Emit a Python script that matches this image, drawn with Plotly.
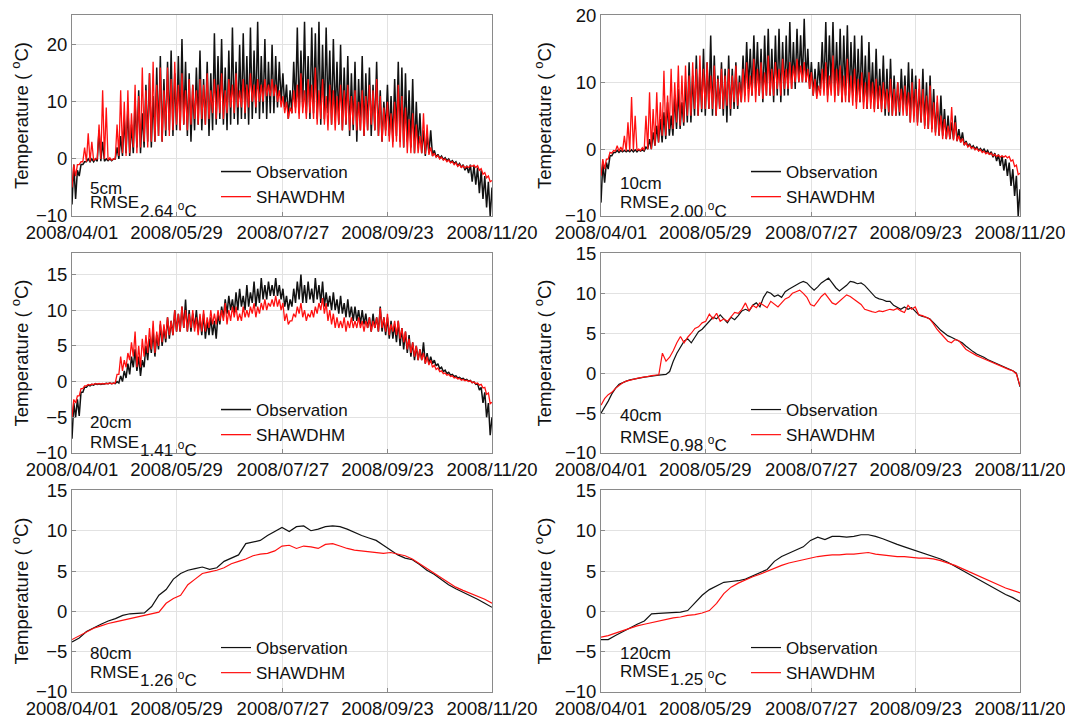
import plotly.graph_objects as go
import pandas as pd

# the page body has an 8px margin; positions below are screen pixels of the reference
OFF = 8
W, H = 1073, 716
FONT = "Liberation Sans, Arial, sans-serif"
START, END = "2008-04-01", "2008-11-20"

tick_dates = ["2008-04-01", "2008-05-29", "2008-07-27", "2008-09-23", "2008-11-20"]
tick_labels = ["2008/04/01", "2008/05/29", "2008/07/27", "2008/09/23", "2008/11/20"]

depths = ["5cm", "10cm", "20cm", "40cm", "80cm", "120cm"]
rmse_vals = ["2.64", "2.00", "1.41", "0.98", "1.26", "1.25"]
series_names = ["Observation", "SHAWDHM"]
y_ranges = [[-10, 25.2], [-10, 20.05], [-10, 18], [-10, 15.05], [-10, 15.05], [-10, 15.05]]
y_dticks = [10, 10, 5, 5, 5, 5]

# ---- 5 cm: 2-day low / high envelope ----
obs_5_lo = [-8, -7, -3, -1, -0.5, -0.5, -0.5, -0.4, -0.4, -0.4, -0.3, -0.3, 0, 0, 0.5, 1, 0.5, 1, 2, 1,
            2, 3, 2, 3, 4, 3, 4, 5, 4, 5, 5, 6, 4, 3, 5, 6, 5, 6, 4, 5,
            6, 7, 6, 5, 6, 7, 6, 7, 7, 6, 7, 8, 7, 8, 7, 8, 8, 9, 10, 9,
            7, 8, 9, 8, 9, 8, 7, 8, 7, 6, 7, 8, 6, 7, 6, 5, 6, 4, 5, 3,
            5, 4, 5, 4, 5, 4, 3, 5, 4, 3, 4, 3, 2, 3, 2, 1, 2, 1, 0.5, 1,
            0.5, 0.3, 0.1, -0.1, -0.3, -0.6, -0.8, -1.2, -1.5, -2, -2.5, -4, -4.5, -6, -7, -8.5, -10]
obs_5_hi = [-1, -2, -1, -0.5, 0, 0, 0, 5, 3, 0, 0, 0, 2, 4, 7, 9, 6, 10, 12, 8,
            13, 15, 11, 16, 18, 14, 17, 19, 15, 18, 21, 17, 15, 13, 16, 19, 14, 17, 15, 22,
            18, 21, 16, 19, 23, 17, 20, 22, 18, 23, 19, 24, 18, 21, 17, 20, 18, 17, 15, 13,
            12, 17, 23, 19, 24, 18, 23, 22, 24, 20, 23, 19, 21, 17, 20, 16, 18, 15, 17, 14,
            18, 15, 16, 13, 17, 12, 10, 13, 11, 14, 17, 16, 15, 12, 14, 10, 8, 5, 4, 5,
            1.5, 0.8, 0.5, 0.2, 0, -0.3, -0.5, -0.8, -1, -1.2, -1, -1.2, -1.5, -2, -3, -4, -5]
sim_5_lo = [-5, -3, -1, -0.5, -0.5, -0.5, -0.3, 0, 0, 0, -0.2, -0.2, 0, 0.5, 1, 0.5, 1, 2, 1, 2,
            3, 2, 3, 3, 4, 3, 5, 4, 5, 6, 5, 6, 5, 6, 7, 6, 7, 6, 7, 8,
            7, 8, 7, 8, 9, 8, 9, 9, 8, 9, 10, 9, 10, 10, 11, 11, 11, 10, 9, 8,
            7, 8, 8, 7, 8, 7, 8, 7, 6, 7, 6, 5, 6, 5, 6, 5, 6, 5, 6, 5,
            5, 4, 5, 6, 5, 4, 3, 4, 3, 2, 3, 2, 2, 1, 1, 1, 1, 1, 0.8, 0.7,
            0.5, 0.3, 0, -0.2, -0.5, -0.7, -1, -1.3, -1.5, -1.6, -1.5, -1.3, -1.5, -2, -2.7, -3.3, -4]
sim_5_hi = [-1, -1, -0.5, 2, 4.5, 3, 0, 6, 12, 9, 0.2, 0, 6, 12, 10, 12, 8, 13, 11, 16,
            12, 15, 17, 13, 16, 12, 16, 14, 17, 13, 15, 12, 14, 13, 12, 14, 13, 15, 12, 14,
            13, 15, 12, 14, 13, 15, 12, 14, 13, 15, 13, 14, 13, 14, 13, 14, 13, 12, 11, 10,
            9, 12, 13, 15, 12, 14, 13, 16, 12, 14, 11, 13, 12, 11, 13, 12, 13, 11, 12, 10,
            12, 11, 13, 12, 14, 11, 9, 10, 8, 10, 13, 11, 9, 7, 8, 6, 4, 8, 6, 2,
            1, 0.6, 0.3, 0, -0.2, -0.5, -0.7, -1, -1.2, -1.3, -1.2, -1.1, -1.2, -1.7, -2.4, -3, -3.8]

# ---- 10 cm ----
obs_10_lo = [-8, -5, -3, -1, -0.5, -0.5, -0.4, -0.4, -0.4, -0.4, -0.4, -0.3, -0.3, 0, 0, 0.5, 1, 1, 1.5, 2,
             2, 3, 3, 3.5, 4, 4, 5, 5, 5.5, 5, 6, 5, 5, 6, 5, 4, 5, 6, 6, 7,
             8, 9, 8, 9, 8, 7, 8, 8, 7, 8, 7, 8, 8, 9, 9, 10, 10, 10, 9, 8,
             8, 9, 9, 8, 9, 8, 8, 7, 8, 7, 8, 7, 7, 7, 6, 7, 6, 6, 6, 5,
             5, 5, 5, 5, 6, 5, 4, 5, 4, 4, 3.5, 3, 3, 2.5, 2, 2, 1.5, 1.5, 1.5, 1.2,
             1, 0.6, 0.4, 0.2, 0, -0.2, -0.3, -0.5, -0.8, -1.2, -1.8, -2.5, -3.2, -4, -5.5, -7, -10]
obs_10_hi = [-2, -2, -1, -0.5, -0.2, -0.2, -0.2, -0.2, -0.1, -0.1, -0.1, -0.1, 0.3, 1.5, 2.5, 3.5, 4.5, 5.5, 7, 5,
             8, 9, 7, 10, 13, 11, 14, 12, 15, 13, 17, 14, 11, 13, 12, 14, 12, 13, 11, 14,
             16, 15, 17, 16, 15, 17, 18, 15, 17, 18, 16, 17, 19, 16, 18, 17, 19.5, 15, 13, 12,
             13, 16, 19, 17, 19, 16, 18, 17, 18.5, 16, 17, 15, 17, 14, 16, 13, 15, 12, 14, 12,
             13.5, 11, 10, 12, 11, 13, 12, 11, 9, 12, 10, 11, 9, 7, 8, 6, 5, 4, 5, 3,
             2.5, 1.2, 0.8, 0.5, 0.3, 0.1, 0, -0.2, -0.4, -0.6, -0.8, -1, -1.5, -2, -3, -4, -6]
sim_10_lo = [-4, -3, -1.5, -0.6, -0.3, -0.3, -0.3, -0.3, -0.3, -0.2, -0.2, -0.2, -0.2, 0, 0, 0.5, 1, 2, 2, 3,
             3, 4, 3.5, 4, 5, 5, 6, 5, 6, 6, 6, 6, 5, 6, 6, 6.5, 6, 7, 6.5, 7,
             7, 7, 8, 7, 8, 7.5, 8, 8, 8, 9, 8, 9, 9, 9, 10, 10, 10, 10, 9, 8,
             7.5, 8, 8, 7, 8, 7, 8, 7, 7, 7, 6.5, 6, 7, 6, 6, 6, 5.5, 6, 5.5, 6,
             5.5, 5, 5, 5.5, 5, 5, 4, 4, 3.5, 4, 3, 3, 2.5, 2, 2, 1.5, 1.5, 1.5, 1.3, 1.2,
             1, 0.6, 0.3, 0.1, -0.1, -0.3, -0.5, -0.7, -0.8, -1, -1.1, -1.2, -1.2, -1.3, -1.8, -2.6, -3.8]
sim_10_hi = [-1.5, -1.5, -0.5, -0.2, 0.5, 0.3, 2, 4, 7.8, 5, 0, 0.2, 5, 8.5, 6, 8.5, 7, 11.7, 8, 12,
             10, 12.5, 11, 12.5, 11, 13, 12, 14, 12, 13, 11, 12.5, 10.5, 12, 11, 12, 11, 12.5, 10, 12,
             13, 11, 13.5, 12, 13, 11.5, 14, 12, 13, 12, 13.5, 12, 13, 12.5, 13.5, 12.5, 13, 12, 11.5, 10.5,
             9.5, 12, 13, 11, 14, 12, 12.5, 11, 13.5, 11, 12, 10.5, 11.5, 10, 11.5, 10, 10.5, 9.5, 10, 9,
             10.5, 9, 10, 9, 9.5, 8.5, 10, 9, 10.5, 9, 8, 9.5, 7, 8, 5, 4.5, 3.5, 6.3, 4, 2,
             1.6, 1.0, 0.6, 0.3, 0.1, -0.1, -0.3, -0.5, -0.6, -0.8, -0.9, -1, -1, -1.1, -1.6, -2.4, -3.6]

# ---- 20 cm ----
obs_20_lo = [-8, -5, -4.8, -1.5, -0.8, -0.6, -0.5, -0.4, -0.4, -0.35, -0.3, -0.3, -0.3, -0.2, 0, 0.5, 1, 2, 1.5, 0.8,
             2, 3, 4, 3.5, 4.5, 5, 5.5, 6, 6.5, 7, 7, 7.5, 7, 7, 7.5, 7, 6.5, 6, 6.5, 6.5,
             6, 8, 9, 9.5, 10, 9.5, 10, 10.5, 10, 10.5, 11, 10.5, 11, 11.5, 11.5, 12, 12, 12, 11.5, 10.5,
             10, 10.5, 11, 11.5, 11, 11, 11.5, 11, 11.5, 11, 10.5, 10.5, 10, 10, 9.5, 9.5, 9, 9, 8.5, 8.5,
             8, 8, 7.5, 7, 7.5, 7, 7, 6.5, 6, 6, 5.5, 5, 4.5, 4, 3.5, 3, 3, 3, 2.5, 2.5,
             2.5, 2.2, 1.8, 1.4, 1.1, 0.9, 0.7, 0.5, 0.35, 0.2, 0.05, -0.15, -0.4, -1.2, -3, -5, -7.5]
obs_20_hi = [-3, -2.5, -1.5, -0.8, -0.5, -0.4, -0.3, -0.3, -0.3, -0.25, -0.2, -0.2, 0, 0.8, 1.5, 2.5, 3.5, 4.5, 3.5, 3,
             5, 6, 7, 6.5, 8, 7.5, 9, 8.5, 10, 9.5, 10.5, 11.5, 10, 9.5, 10, 9, 9.5, 8.5, 9, 8.5,
             9.5, 10.5, 11.5, 12, 11.5, 12.5, 13, 12, 13.5, 12.5, 14, 13, 14.5, 13.5, 14, 13.5, 14.5, 13.5, 13, 12,
             11.5, 13, 14, 15, 13.5, 14, 13, 14.5, 13.5, 14, 12.5, 12, 12.5, 11.5, 12, 11, 11.5, 10.5, 10.5, 10,
             10, 9.5, 9, 9.5, 9, 10.5, 9, 9, 8.5, 8, 8.5, 7.5, 7, 6.5, 5.5, 5, 4.5, 5.5, 4, 3.5,
             3, 2.5, 2, 1.6, 1.3, 1, 0.8, 0.6, 0.45, 0.3, 0.15, -0.05, -0.3, -0.8, -1.5, -3, -5]
sim_20_lo = [-5, -3, -2, -1, -0.6, -0.5, -0.4, -0.35, -0.35, -0.35, -0.3, -0.3, -0.2, 1, 1.5, 2, 3, 3.5, 2, 2,
             3.5, 4, 4.5, 4, 5, 5.5, 6, 6.5, 6.5, 7, 7, 7.5, 7, 7.5, 7, 6.5, 7, 7, 7.5, 8,
             8, 8.5, 8.5, 8, 8.5, 9, 8.5, 8.5, 9, 9, 9.5, 9, 9.5, 10, 10, 10.5, 10.5, 10.5, 10, 8.5,
             8, 8.5, 9, 9.5, 9, 8.5, 9, 9, 9.5, 10, 9.5, 8.5, 8, 7.5, 7.5, 7.5, 7, 7.5, 7.5, 7.5,
             7.5, 7, 7.5, 7, 7.5, 7, 7.5, 7, 6.5, 7, 6.5, 6, 5.5, 4.5, 4, 3.5, 3, 3, 2.5, 2.3,
             2, 1.7, 1.4, 1.1, 0.9, 0.7, 0.5, 0.35, 0.2, 0.1, 0, -0.15, -0.3, -0.5, -0.9, -1.8, -3.1]
sim_20_hi = [-2.5, -2, -1, -0.6, -0.4, -0.35, -0.3, -0.25, -0.25, -0.25, -0.2, -0.2, 1, 3.5, 3, 4, 5.5, 7, 5, 6,
             6.5, 7.5, 8.5, 7, 8.5, 8, 9, 8.5, 10, 9.5, 10.5, 10, 9.5, 10, 9, 9.5, 10, 9, 10, 9.5,
             10, 10, 11, 10, 10.5, 10.5, 9.5, 10.5, 10, 10.5, 11, 10.5, 11, 11.5, 11, 11.5, 12, 11.5, 11, 9.5,
             8.5, 9.5, 10.5, 11, 10, 9.5, 10, 10.5, 11, 11.7, 11, 10, 9.5, 9, 8.5, 9, 8.5, 9, 8.5, 9,
             8.5, 8.5, 9, 8.5, 9, 10.3, 9, 9.5, 8, 8.5, 8.5, 7.5, 7, 6, 5.5, 5, 4.5, 4, 3.5, 3,
             2.3, 1.9, 1.5, 1.2, 1.0, 0.8, 0.6, 0.45, 0.3, 0.2, 0.1, -0.05, -0.2, -0.4, -0.8, -1.6, -2.9]

# ---- 40 cm (2-day values) ----
obs_40 = [-5.0, -4.3, -3.5, -2.6, -1.9, -1.4, -1.15, -1.0, -0.85, -0.75, -0.65, -0.55, -0.5, -0.45, -0.35, -0.3, -0.25, -0.2, -0.15, 0.2,
          1.5, 2.5, 3.2, 4.0, 4.3, 3.8, 4.5, 5.2, 5.5, 6.0, 6.5, 7.0, 6.8, 7.3, 6.8, 6.3, 7.0, 6.7, 7.2, 7.8,
          8.0, 7.8, 8.5, 8.8, 8.3, 9.5, 10.2, 10.0, 9.6, 9.8, 9.5, 10.2, 10.5, 10.8, 11.0, 11.3, 11.5, 11.3, 10.8, 10.4,
          10.8, 11.3, 11.6, 11.9, 11.3, 10.7, 10.3, 10.6, 11.0, 11.5, 11.4, 11.2, 11.3, 11.0, 10.5, 10.0, 9.5, 9.3, 9.2, 9.0,
          9.0, 8.5, 8.2, 8.0, 8.3, 8.0, 8.2, 7.8, 7.3, 7.1, 7.0, 6.8, 6.4, 5.9, 5.4, 5.0, 4.7, 4.5, 4.3, 4.1,
          3.8, 3.4, 3.0, 2.7, 2.4, 2.2, 2.0, 1.7, 1.5, 1.3, 1.1, 0.9, 0.7, 0.5, 0.3, 0.0, -1.7]
sim_40 = [-4.0, -3.2, -2.7, -2.4, -1.9, -1.5, -1.2, -1.0, -0.85, -0.75, -0.65, -0.55, -0.5, -0.4, -0.3, -0.25, -0.2, 2.5, 1.5, 2.0,
          2.8, 3.8, 4.6, 3.8, 4.5, 5.0, 5.6, 5.8, 6.3, 6.5, 7.4, 6.8, 7.5, 6.5, 6.8, 6.5, 7.0, 7.6, 7.5, 8.0,
          8.8, 7.8, 8.5, 8.2, 8.8, 8.5, 8.2, 9.0, 8.6, 8.3, 8.8, 9.3, 9.5, 10.0, 10.2, 10.4, 10.0, 9.5, 8.6, 8.4,
          9.0, 9.6, 10.0, 9.4, 8.8, 8.6, 9.0, 9.5, 9.8, 9.6, 9.3, 9.0, 8.6, 8.0, 7.8, 7.7, 7.6, 7.8, 7.7, 7.9,
          8.0, 7.9, 8.1, 7.8, 7.6, 8.5, 8.0, 8.3, 7.3, 7.2, 7.0, 6.8, 6.2, 5.5, 5.0, 4.5, 4.0, 3.8, 4.2, 4.1,
          3.5, 3.0, 2.7, 2.4, 2.2, 2.0, 1.8, 1.6, 1.4, 1.2, 1.0, 0.8, 0.6, 0.45, 0.3, -0.1, -1.6]

# ---- 80 cm (4-day values) ----
obs_80 = [-3.8, -3.3, -2.5, -2.0, -1.6, -1.2, -0.9, -0.5, -0.3, -0.25, -0.2, 0.6, 2.0, 2.7, 4.0, 4.7, 5.1, 5.3, 5.5, 5.2,
          5.4, 6.2, 6.6, 7.0, 8.4, 8.6, 8.8, 9.4, 9.9, 10.4, 9.9, 10.5, 10.6, 10.0, 10.2, 10.5, 10.6, 10.5, 10.2, 9.8,
          9.4, 9.1, 8.8, 8.2, 7.6, 7.0, 6.6, 6.4, 5.8, 5.1, 4.6, 3.9, 3.3, 2.8, 2.4, 1.9, 1.5, 1.0, 0.5]
sim_80 = [-3.5, -3.0, -2.5, -2.1, -1.8, -1.5, -1.3, -1.1, -0.9, -0.7, -0.5, -0.3, -0.1, 1.0, 1.6, 2.0, 3.3, 4.0, 4.7, 4.9,
          5.1, 5.4, 5.9, 6.2, 6.5, 6.9, 7.1, 7.2, 7.5, 8.1, 8.2, 7.8, 8.1, 8.0, 7.8, 8.3, 8.4, 8.1, 7.8, 7.6,
          7.5, 7.4, 7.3, 7.2, 7.3, 7.1, 6.9, 6.5, 5.9, 5.3, 4.7, 4.1, 3.5, 3.0, 2.6, 2.2, 1.9, 1.5, 1.0]

# ---- 120 cm (4-day values) ----
obs_120 = [-3.5, -3.5, -3.0, -2.5, -2.0, -1.6, -1.2, -0.3, -0.25, -0.2, -0.2, -0.1, 0.1, 1.0, 2.0, 2.7, 3.2, 3.6, 3.7, 3.8,
           4.0, 4.4, 4.8, 5.2, 6.2, 6.8, 7.2, 7.6, 8.0, 8.8, 9.2, 8.9, 9.3, 9.3, 9.2, 9.3, 9.5, 9.5, 9.3, 9.0,
           8.6, 8.3, 8.0, 7.7, 7.4, 7.1, 6.8, 6.5, 6.1, 5.6, 5.0, 4.5, 4.0, 3.5, 3.0, 2.5, 2.1, 1.7, 1.2]
sim_120 = [-3.2, -3.0, -2.7, -2.4, -2.1, -1.8, -1.6, -1.4, -1.2, -1.0, -0.8, -0.7, -0.5, -0.4, -0.2, 0.1, 1.0, 2.2, 3.0, 3.5,
           3.9, 4.3, 4.6, 5.0, 5.4, 5.7, 6.0, 6.2, 6.4, 6.6, 6.8, 6.9, 7.0, 7.0, 7.1, 7.1, 7.2, 7.3, 7.1, 7.0,
           6.9, 6.8, 6.8, 6.7, 6.6, 6.6, 6.5, 6.3, 6.0, 5.7, 5.3, 4.9, 4.5, 4.1, 3.7, 3.3, 2.9, 2.6, 2.3]

envelopes = {0: (obs_5_lo, obs_5_hi, sim_5_lo, sim_5_hi),
             1: (obs_10_lo, obs_10_hi, sim_10_lo, sim_10_hi),
             2: (obs_20_lo, obs_20_hi, sim_20_lo, sim_20_hi)}
smooth = {3: (obs_40, sim_40), 4: (obs_80, sim_80), 5: (obs_120, sim_120)}


def zigzag(lo, hi):
    assert len(lo) == len(hi), (len(lo), len(hi))
    ys = []
    for a, b in zip(lo, hi):
        ys.extend([a, b])
    xs = pd.date_range(START, END, periods=len(ys))
    return xs, ys


def line(vals):
    return pd.date_range(START, END, periods=len(vals)), vals


# layout geometry (screen pixels of the reference)
col_x = [(72, 492), (601, 1020)]
row_y = [(15, 216), (253, 453), (490, 692)]


def px(x):
    return (x - OFF) / W


def py(y):
    return 1 - (y - OFF) / H


fig = go.Figure()
BLACK = "#111111"
RED = "#ff1010"

for k in range(6):
    ax = "" if k == 0 else str(k + 1)
    leg = "legend" if k == 0 else f"legend{k + 1}"
    if k in envelopes:
        olo, ohi, slo, shi = envelopes[k]
        xo, yo = zigzag(olo, ohi)
        xs, ys = zigzag(slo, shi)
        wo, ws = 1.5, 1.3
    else:
        o, s = smooth[k]
        xo, yo = line(o)
        xs, ys = line(s)
        wo, ws = 1.2, 1.2
    fig.add_trace(go.Scatter(x=xo, y=yo, mode="lines", name=series_names[0],
                             line=dict(color=BLACK, width=wo), xaxis="x" + ax, yaxis="y" + ax,
                             legend=leg, showlegend=True))
    fig.add_trace(go.Scatter(x=xs, y=ys, mode="lines", name=series_names[1],
                             line=dict(color=RED, width=ws), xaxis="x" + ax, yaxis="y" + ax,
                             legend=leg, showlegend=True))

layout = dict(width=W, height=H, autosize=False, margin=dict(l=0, r=0, t=0, b=0, autoexpand=False),
              paper_bgcolor="white", plot_bgcolor="white",
              font=dict(family=FONT, size=17, color="#111"), showlegend=True)

axis_common = dict(showline=True, mirror=True, linecolor="#8a8a8a", linewidth=1,
                   showgrid=True, gridcolor="#e2e2e2", gridwidth=1, zeroline=False,
                   ticks="inside", ticklen=4, tickcolor="#8a8a8a", automargin=False,
                   ticklabeloverflow="allow",
                   tickfont=dict(family=FONT, size=18.5, color="#111"))

leg_pos = {0: (216, 154), 1: (746, 154), 2: (216, 392), 3: (746, 392), 4: (216, 630), 5: (746, 630)}
ann_pos = {0: (88, 188, 203), 1: (618, 184, 203), 2: (88, 422, 442), 3: (618, 415, 437),
           4: (88, 653, 672), 5: (618, 653, 671)}

annotations = []
for k in range(6):
    r, c = divmod(k, 2)
    ax = "" if k == 0 else str(k + 1)
    x0, x1 = col_x[c]
    y0, y1 = row_y[r]
    layout["xaxis" + ax] = dict(axis_common, type="date", range=[START, END],
                                domain=[px(x0), px(x1)], anchor="y" + ax,
                                tickmode="array", tickvals=tick_dates, ticktext=tick_labels)
    layout["yaxis" + ax] = dict(axis_common, range=y_ranges[k], dtick=y_dticks[k], tick0=0,
                                domain=[py(y1), py(y0)], anchor="x" + ax,
                                title=dict(text="Temperature ( <sup>o</sup>C)",
                                           font=dict(family=FONT, size=18.5, color="#111"),
                                           standoff=8))
    lx, ly = leg_pos[k]
    leg = "legend" if k == 0 else f"legend{k + 1}"
    layout[leg] = dict(x=px(lx), y=py(ly), xanchor="left", yanchor="top",
                       bgcolor="rgba(0,0,0,0)", borderwidth=0, tracegroupgap=0,
                       font=dict(family=FONT, size=17, color="#111"))
    axx, a1, a2 = ann_pos[k]
    annotations.append(dict(x=px(axx), y=py(a1), xref="paper", yref="paper", xanchor="left",
                            yanchor="middle", text=depths[k], showarrow=False,
                            font=dict(family=FONT, size=17, color="#111")))
    annotations.append(dict(x=px(axx), y=py(a2), xref="paper", yref="paper", xanchor="left",
                            yanchor="middle", text="RMSE", showarrow=False,
                            font=dict(family=FONT, size=17, color="#111")))
    annotations.append(dict(x=px(axx + 50), y=py(a2 + 7), xref="paper", yref="paper", xanchor="left",
                            yanchor="middle", text=rmse_vals[k] + " <sup>o</sup>C", showarrow=False,
                            font=dict(family=FONT, size=17, color="#111")))

layout["annotations"] = annotations
fig.update_layout(**layout)
fig.write_html("out.html")
